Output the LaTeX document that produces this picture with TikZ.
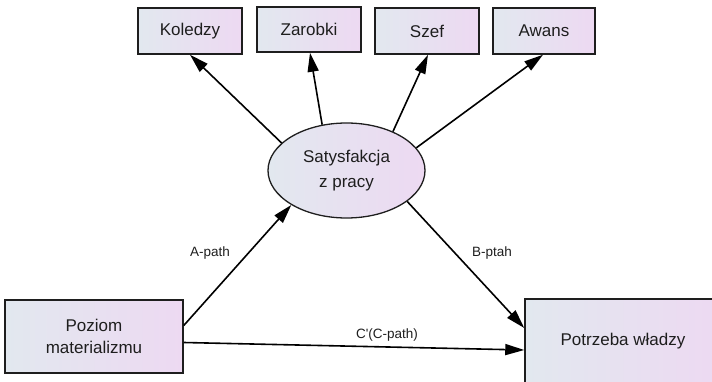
\documentclass[tikz,border=0pt]{standalone}
\usepackage{fontspec}
\setmainfont{Liberation Sans}
\newfontfamily\plainsans{Liberation Sans}
\usetikzlibrary{arrows.meta,shapes.geometric}
\definecolor{fillL}{HTML}{E2E8EF}
\definecolor{fillR}{HTML}{EDD9F2}
\definecolor{edge}{HTML}{1E1E1E}
\tikzset{
  boxnode/.style={draw=edge, line width=1.5pt, rectangle, left color=fillL, right color=fillR,
    inner sep=0pt, font=\fontsize{17}{24}\selectfont, text=edge, align=center},
  ellnode/.style={draw=edge, line width=1.3pt, ellipse, left color=fillL, right color=fillR,
    inner sep=0pt, minimum width=157pt, minimum height=95pt, font=\fontsize{17}{25}\selectfont, text=edge, align=center},
  conn/.style={draw=black, line width=1.6pt, -{Triangle[length=19pt,width=11pt]}},
  lbl/.style={font=\plainsans\fontsize{13.5}{16}\selectfont, text=edge, inner sep=0pt}
}
\begin{document}
\begin{tikzpicture}[x=1pt,y=-1pt]
\useasboundingbox (0,0) rectangle (712,382);
% top boxes
\node[boxnode, minimum width=104pt, minimum height=46pt] (kol) at (190,31) {Koledzy};
\node[boxnode, minimum width=104pt, minimum height=45pt] (zar) at (309,29.5) {Zarobki};
\node[boxnode, minimum width=104pt, minimum height=46pt] (sze) at (427,31) {Szef};
\node[boxnode, minimum width=102pt, minimum height=46pt] (awa) at (544,31) {Awans};
% ellipse
\node[ellnode] (sat) at (346.5,170.5) {Satysfakcja\\z pracy};
% bottom boxes
\node[boxnode, minimum width=178pt, minimum height=73pt, font=\fontsize{17}{22}\selectfont] (poz) at (94,336.5) {Poziom\\materializmu};
\node[boxnode, minimum width=196pt, minimum height=84pt] (pot) at (623,341) {Potrzeba władzy};
% connectors
\draw[conn] (sat.157) -- (kol.south);
\draw[conn] (sat.118) -- ([xshift=1pt]zar.south);
\draw[conn] (sat.40) -- ([xshift=1pt]sze.south);
\draw[conn] (sat.18) -- ([xshift=-1pt]awa.south);
\draw[conn] ([yshift=11pt]poz.east) -- (sat.212);
\draw[conn] (sat.333) -- ([yshift=13pt]pot.west);
\draw[conn] ([yshift=-6pt]poz.east) -- ([yshift=-9pt]pot.west);
% labels
\node[lbl] (la) at (210,253) {A-path};
\node[lbl] (lb) at (492,253) {B-ptah};
\node[lbl] (lc) at (387,335) {C'(C-path)};
\end{tikzpicture}
\end{document}
